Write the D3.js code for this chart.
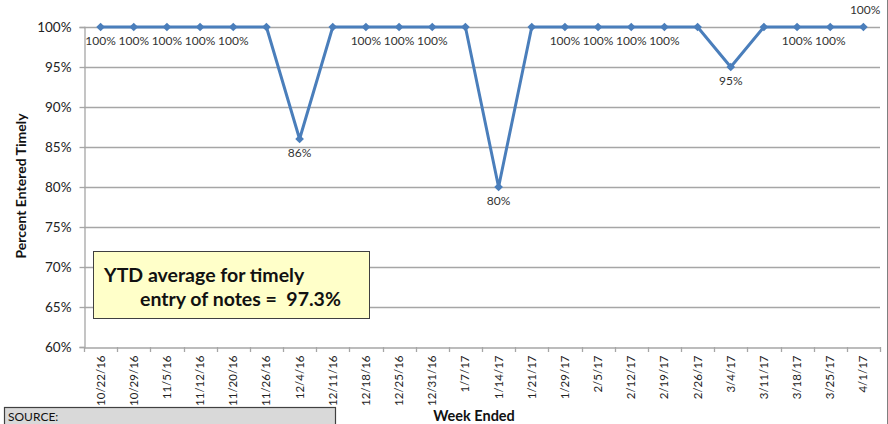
<!DOCTYPE html>
<html>
<head>
<meta charset="utf-8">
<script src="https://cdn.jsdelivr.net/npm/d3@7"></script>
<style>
  html, body { margin: 0; padding: 0; background: #fff; }
  svg { display: block; font-family: Lato, "Open Sans", sans-serif; }
</style>
</head>
<body>
<svg id="chart" width="888" height="424"></svg>
<script>
const weeks = ["10/22/16","10/29/16","11/5/16","11/12/16","11/20/16","11/26/16","12/4/16","12/11/16","12/18/16","12/25/16","12/31/16","1/7/17","1/14/17","1/21/17","1/29/17","2/5/17","2/12/17","2/19/17","2/26/17","3/4/17","3/11/17","3/18/17","3/25/17","4/1/17"];
const percentTimely = [100,100,100,100,100,100,86,100,100,100,100,100,80,100,100,100,100,100,100,95,100,100,100,100];
const shownLabels = [true,true,true,true,true,false,true,false,true,true,true,false,true,false,true,true,true,true,false,true,false,true,true,true];
const yTicks = [60,65,70,75,80,85,90,95,100];
const ytdText = ["YTD average for timely", "entry of notes =  97.3%"];

const svg = d3.select("#chart");
const mLeft = 84, mRight = 880, mTop = 27, mBottom = 347;

const x = d3.scaleBand().domain(weeks).range([mLeft, mRight]);
const y = d3.scaleLinear().domain([60, 100]).range([mBottom, mTop]);

// chart right border
svg.append("line").attr("x1", 887.5).attr("x2", 887.5).attr("y1", 0).attr("y2", 424)
  .attr("stroke", "#7f7f7f").attr("stroke-width", 1);

// gridlines
svg.append("g").selectAll("line").data(yTicks.filter(d => d > 60)).join("line")
  .attr("x1", mLeft).attr("x2", mRight)
  .attr("y1", d => Math.round(y(d)) + 0.5).attr("y2", d => Math.round(y(d)) + 0.5)
  .attr("stroke", "#a6a6a6").attr("stroke-width", 1.3);

// y axis
const yAxis = svg.append("g").attr("transform", `translate(${mLeft + 0.5},0)`)
  .call(d3.axisLeft(y).tickValues(yTicks).tickFormat(d => d + "%").tickSize(5).tickPadding(8));
yAxis.select(".domain").attr("stroke", "#a6a6a6").attr("stroke-width", 1.3);
yAxis.selectAll(".tick line").attr("stroke", "#a6a6a6").attr("stroke-width", 1.3);
yAxis.selectAll(".tick text").attr("font-size", 13.5).attr("fill", "#222").attr("font-family", "Lato, sans-serif");

// x axis
const xAxis = svg.append("g").attr("transform", `translate(0,${mBottom + 0.5})`)
  .call(d3.axisBottom(x).tickSize(0).tickSizeOuter(0));
xAxis.select(".domain").attr("stroke", "#a6a6a6").attr("stroke-width", 1.3);
xAxis.selectAll(".tick text")
  .attr("font-size", 11.5).attr("fill", "#222").attr("font-family", "Lato, sans-serif")
  .attr("transform", "rotate(-90)")
  .attr("text-anchor", "end")
  .attr("x", -8).attr("y", 0).attr("dy", "0.35em");
// boundary tick marks
const bounds = weeks.map(w => x(w)).concat([mRight]);
svg.append("g").selectAll("line").data(bounds).join("line")
  .attr("x1", d => Math.round(d) + 0.5).attr("x2", d => Math.round(d) + 0.5)
  .attr("y1", mBottom).attr("y2", mBottom + 5)
  .attr("stroke", "#a6a6a6").attr("stroke-width", 1.3);

// line
const cx = d => x(d) + x.bandwidth() / 2;
const pts = weeks.map((w, i) => ({ w, v: percentTimely[i], show: shownLabels[i], i }));
svg.append("path").datum(pts)
  .attr("fill", "none").attr("stroke", "#4a7ebb").attr("stroke-width", 3)
  .attr("stroke-linejoin", "round")
  .attr("d", d3.line().x(d => cx(d.w)).y(d => y(d.v)));

svg.append("g").selectAll("path").data(pts).join("path")
  .attr("d", d3.symbol().type(d3.symbolDiamond2).size(48))
  .attr("transform", d => `translate(${cx(d.w)},${y(d.v)})`)
  .attr("fill", "#4a7ebb");

// data labels
svg.append("g").selectAll("text").data(pts.filter(d => d.show)).join("text")
  .attr("x", d => cx(d.w))
  .attr("y", d => d.i === weeks.length - 1 ? y(d.v) - 13 : y(d.v) + 18)
  .attr("text-anchor", d => d.i === weeks.length - 1 ? "end" : "middle")
  .attr("dx", d => d.i === weeks.length - 1 ? 17 : 0)
  .attr("font-size", 12).attr("fill", "#333")
  .text(d => d.v + "%");

// axis titles
svg.append("text")
  .attr("transform", `translate(26,186) rotate(-90)`)
  .attr("text-anchor", "middle").attr("font-size", 14).attr("font-weight", "bold").attr("fill", "#111")
  .text("Percent Entered Timely");
svg.append("text")
  .attr("x", 474).attr("y", 421)
  .attr("text-anchor", "middle").attr("font-size", 14.5).attr("font-weight", "bold").attr("fill", "#111")
  .text("Week Ended");

// YTD box
svg.append("rect").attr("x", 93.5).attr("y", 251.5).attr("width", 276).attr("height", 67)
  .attr("fill", "#ffffc9").attr("stroke", "#404040").attr("stroke-width", 1);
svg.append("text").attr("x", 104).attr("y", 282)
  .attr("font-size", 19.5).attr("font-weight", "bold").attr("fill", "#111").text(ytdText[0]);
svg.append("text").attr("x", 140).attr("y", 306)
  .style("white-space", "pre")
  .attr("font-size", 19.5).attr("font-weight", "bold").attr("fill", "#111").text(ytdText[1]);

// Source box
svg.append("rect").attr("x", 4.5).attr("y", 407.5).attr("width", 331).attr("height", 22)
  .attr("fill", "#d9d9d9").attr("stroke", "#404040").attr("stroke-width", 1.2);
svg.append("text").attr("x", 8).attr("y", 421).attr("font-size", 12).attr("fill", "#111").text("SOURCE:");
</script>
</body>
</html>
